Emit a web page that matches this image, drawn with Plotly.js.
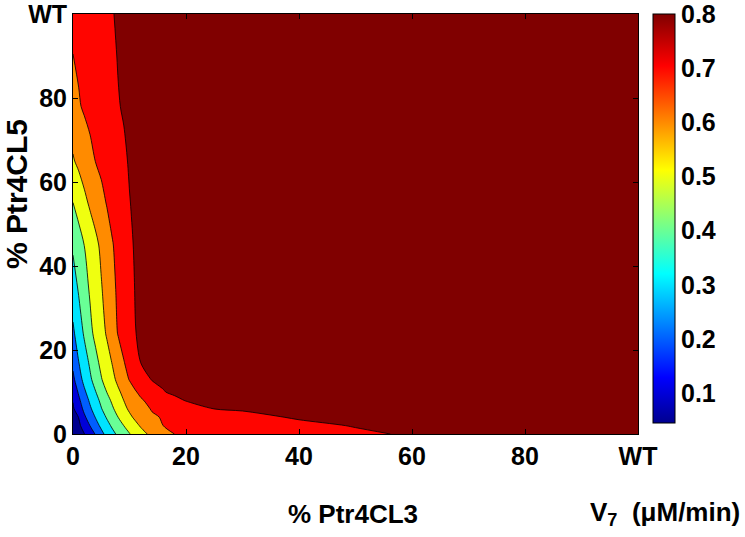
<!DOCTYPE html>
<html>
<head>
<meta charset="utf-8">
<script src="https://cdn.plot.ly/plotly-3.0.1.min.js"></script>
<style>
    html, body { margin: 0; padding: 0; background: #fff; }
    #graph-container { width: 745px; height: 537px; }
</style>
</head>
<body>
<div id="graph-container"></div>
<script>
// % Ptr4CL3 (x) and % Ptr4CL5 (y) grid, 100 = WT
var xPct = [0, 1, 2, 3, 4, 5, 6, 7, 8, 9, 10, 11, 12, 14, 16, 18, 20, 25, 30, 40, 50, 60, 80, 100];
var yPct = [0, 2, 4, 6, 8, 10, 13, 17, 24, 35, 45, 55, 65, 78, 90, 100];

// V7 (uM/min), one row per yPct value
var v7 = [
    [0.05, 0.074, 0.098, 0.15, 0.207, 0.273, 0.329, 0.376, 0.419, 0.458, 0.496, 0.533, 0.57, 0.623, 0.662, 0.701, 0.705, 0.718, 0.732, 0.758, 0.784, 0.81, 0.82, 0.82],
    [0.063, 0.086, 0.129, 0.201, 0.263, 0.32, 0.37, 0.417, 0.458, 0.501, 0.538, 0.577, 0.609, 0.655, 0.701, 0.706, 0.713, 0.729, 0.745, 0.777, 0.805, 0.815, 0.82, 0.82],
    [0.076, 0.101, 0.183, 0.247, 0.305, 0.358, 0.409, 0.455, 0.501, 0.542, 0.583, 0.615, 0.639, 0.688, 0.707, 0.716, 0.726, 0.749, 0.772, 0.81, 0.815, 0.82, 0.82, 0.82],
    [0.089, 0.147, 0.224, 0.285, 0.341, 0.395, 0.443, 0.49, 0.535, 0.578, 0.614, 0.641, 0.668, 0.707, 0.724, 0.741, 0.757, 0.801, 0.81, 0.815, 0.82, 0.82, 0.82, 0.82],
    [0.104, 0.181, 0.25, 0.314, 0.368, 0.42, 0.47, 0.517, 0.558, 0.601, 0.63, 0.661, 0.691, 0.725, 0.755, 0.78, 0.804, 0.815, 0.82, 0.82, 0.82, 0.82, 0.82, 0.82],
    [0.134, 0.211, 0.284, 0.343, 0.397, 0.45, 0.502, 0.544, 0.586, 0.623, 0.658, 0.693, 0.717, 0.758, 0.796, 0.816, 0.82, 0.82, 0.82, 0.82, 0.82, 0.82, 0.82, 0.82],
    [0.178, 0.259, 0.328, 0.383, 0.439, 0.494, 0.538, 0.579, 0.622, 0.665, 0.705, 0.732, 0.758, 0.805, 0.815, 0.82, 0.82, 0.82, 0.82, 0.82, 0.82, 0.82, 0.82, 0.82],
    [0.222, 0.297, 0.355, 0.414, 0.473, 0.523, 0.564, 0.606, 0.651, 0.696, 0.731, 0.766, 0.801, 0.81, 0.82, 0.82, 0.82, 0.82, 0.82, 0.82, 0.82, 0.82, 0.82, 0.82],
    [0.283, 0.347, 0.413, 0.475, 0.525, 0.567, 0.61, 0.66, 0.706, 0.738, 0.769, 0.798, 0.81, 0.82, 0.82, 0.82, 0.82, 0.82, 0.82, 0.82, 0.82, 0.82, 0.82, 0.82],
    [0.353, 0.412, 0.464, 0.512, 0.553, 0.594, 0.638, 0.681, 0.716, 0.745, 0.774, 0.803, 0.81, 0.82, 0.82, 0.82, 0.82, 0.82, 0.82, 0.82, 0.82, 0.82, 0.82, 0.82],
    [0.415, 0.458, 0.501, 0.539, 0.578, 0.618, 0.657, 0.696, 0.725, 0.753, 0.781, 0.81, 0.82, 0.82, 0.82, 0.82, 0.82, 0.82, 0.82, 0.82, 0.82, 0.82, 0.82, 0.82],
    [0.499, 0.538, 0.577, 0.613, 0.644, 0.675, 0.705, 0.728, 0.751, 0.774, 0.798, 0.81, 0.82, 0.82, 0.82, 0.82, 0.82, 0.82, 0.82, 0.82, 0.82, 0.82, 0.82, 0.82],
    [0.592, 0.619, 0.647, 0.675, 0.702, 0.72, 0.738, 0.755, 0.773, 0.791, 0.805, 0.81, 0.82, 0.82, 0.82, 0.82, 0.82, 0.82, 0.82, 0.82, 0.82, 0.82, 0.82, 0.82],
    [0.654, 0.692, 0.711, 0.726, 0.74, 0.754, 0.769, 0.783, 0.797, 0.805, 0.81, 0.82, 0.82, 0.82, 0.82, 0.82, 0.82, 0.82, 0.82, 0.82, 0.82, 0.82, 0.82, 0.82],
    [0.699, 0.713, 0.726, 0.739, 0.752, 0.765, 0.778, 0.791, 0.803, 0.81, 0.82, 0.82, 0.82, 0.82, 0.82, 0.82, 0.82, 0.82, 0.82, 0.82, 0.82, 0.82, 0.82, 0.82],
    [0.72, 0.731, 0.742, 0.753, 0.764, 0.775, 0.787, 0.798, 0.806, 0.81, 0.82, 0.82, 0.82, 0.82, 0.82, 0.82, 0.82, 0.82, 0.82, 0.82, 0.82, 0.82, 0.82, 0.82]
];

// tick labels
var axisTickVals = [0, 20, 40, 60, 80, 100];
var axisTickText = ['0', '20', '40', '60', '80', 'WT'];
var barTickVals = [0.1, 0.2, 0.3, 0.4, 0.5, 0.6, 0.7, 0.8];

// contour levels 0.1 .. 0.8, each band painted like matlab does (colour of its lower level)
var bandColors = ['rgb(0,0,143)', 'rgb(0,0,216)', 'rgb(0,94,255)', 'rgb(0,228,255)',
    'rgb(105,255,150)', 'rgb(239,255,16)', 'rgb(255,139,0)', 'rgb(255,5,0)', 'rgb(128,0,0)'];

var jet = [
    [0, 'rgb(0,0,143)'],
    [0.111, 'rgb(0,0,255)'],
    [0.365, 'rgb(0,255,255)'],
    [0.619, 'rgb(255,255,0)'],
    [0.873, 'rgb(255,0,0)'],
    [1, 'rgb(128,0,0)']
];

// step colorscale so every band gets exactly one colour
var bandScale = [];
var nb = bandColors.length;
for (var i = 0; i < nb; i++) {
    var lo = i === 0 ? 0 : (i - 0.5) / (nb - 1);
    var hi = i === nb - 1 ? 1 : (i + 0.5) / (nb - 1);
    bandScale.push([lo, bandColors[i]]);
    bandScale.push([hi, bandColors[i]]);
}

var font = 'Liberation Sans, Arial, sans-serif';
var tickFont = { family: font, size: 25, color: '#000', weight: 'bold' };
var titleFont = { family: font, size: 26, color: '#000', weight: 'bold' };

var contourTrace = {
    type: 'contour',
    x: xPct,
    y: yPct,
    z: v7,
    autocontour: false,
    contours: { start: 0.1, end: 0.8, size: 0.1, coloring: 'fill' },
    colorscale: bandScale,
    line: { color: '#000', width: 0.8, smoothing: 0.85 },
    showscale: false,
    hoverinfo: 'skip'
};

// invisible trace, only there to draw the continuous colour bar
var barTrace = {
    type: 'scatter',
    mode: 'markers',
    x: [-50, -50],
    y: [-50, -50],
    marker: {
        size: 1,
        opacity: 0,
        color: [0.045, 0.8],
        cmin: 0.045,
        cmax: 0.8,
        colorscale: jet,
        showscale: true,
        colorbar: {
            x: 1.0265,
            xanchor: 'left',
            xpad: 0,
            y: 1,
            yanchor: 'top',
            ypad: 0,
            len: 409,
            lenmode: 'pixels',
            thickness: 22,
            thicknessmode: 'pixels',
            outlinecolor: '#000',
            outlinewidth: 1,
            tickvals: barTickVals,
            tickformat: '.1f',
            ticks: '',
            ticklabeloverflow: 'allow',
            tickfont: tickFont
        }
    },
    showlegend: false,
    hoverinfo: 'skip'
};

var axisStyle = {
    range: [0, 100],
    tickvals: axisTickVals,
    ticktext: axisTickText,
    ticks: 'inside',
    ticklen: 5,
    tickcolor: '#000',
    tickwidth: 1,
    showline: true,
    linecolor: '#000',
    linewidth: 1,
    mirror: 'ticks',
    showgrid: false,
    zeroline: false,
    ticklabeloverflow: 'allow',
    ticklabelstandoff: 0,
    tickfont: tickFont,
    fixedrange: true
};

var layout = {
    width: 745,
    height: 537,
    margin: { l: 73, r: 107, t: 14, b: 103 },
    paper_bgcolor: '#fff',
    plot_bgcolor: '#fff',
    showlegend: false,
    xaxis: Object.assign({}, axisStyle),
    yaxis: Object.assign({}, axisStyle),
    annotations: [
        { text: '% Ptr4CL3', xref: 'paper', yref: 'paper', x: 0.4956, y: -0.19,
          xanchor: 'center', yanchor: 'middle', showarrow: false, font: titleFont },
        { text: '% Ptr4CL5', xref: 'paper', yref: 'paper', x: -0.101, y: 0.571,
          xanchor: 'center', yanchor: 'middle', textangle: -90, showarrow: false,
          font: { family: font, size: 30, color: '#000', weight: 'bold' } },
        { text: 'V<sub>7</sub>  (μM/min)', xref: 'paper', yref: 'paper', x: 1.048, y: -0.19,
          xanchor: 'center', yanchor: 'middle', showarrow: false, font: titleFont }
    ]
};

Plotly.newPlot('graph-container', [contourTrace, barTrace], layout, { staticPlot: true });
</script>
</body>
</html>
